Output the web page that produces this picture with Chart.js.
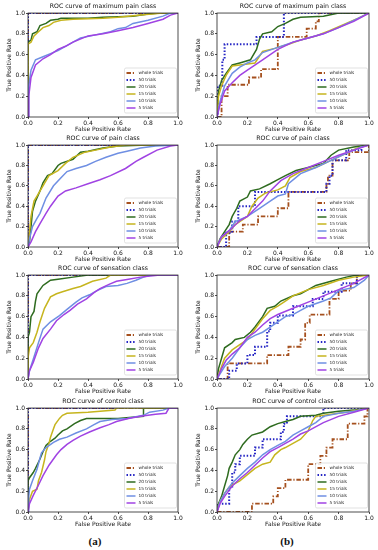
<!DOCTYPE html>
<html>
<head>
<meta charset="utf-8">
<script src="https://cdn.jsdelivr.net/npm/chart.js@4.4.1/dist/chart.umd.min.js"></script>
<style>
  html, body { margin: 0; padding: 0; background: #fff; }
  #figure { position: relative; width: 378px; height: 550px; overflow: hidden; }
  #figure canvas { position: absolute; }
  .panel-label { position: absolute; top: 535px; font: bold 11px "Liberation Serif", serif; color: #111; transform: translateX(-50%); }
</style>
</head>
<body>
<div id="figure">
  <div class="panel-label" style="left:95px">(a)</div>
  <div class="panel-label" style="left:287px">(b)</div>
</div>
<script>
// Series + ticks
const seriesNames = ['whole trials', '50 trials', '20 trials', '15 trials', '10 trials', '5 trials'];
const classTitles = ['ROC curve of maximum pain class', 'ROC curve of pain class', 'ROC curve of sensation class', 'ROC curve of control class'];
const tickValues = [0, 0.2, 0.4, 0.6, 0.8, 1.0];
const tickLabels = ['0.0', '0.2', '0.4', '0.6', '0.8', '1.0'];

// Curves, [fpr, tpr] pairs
// (a) column
const perfectRoc = [[0, 0], [0, 1], [1, 1]];

const maxPainA20 = [[0,0],[0,0.72],[0.02,0.74],[0.03,0.8],[0.06,0.82],[0.08,0.88],[0.12,0.9],[0.15,0.93],[0.2,0.94],[0.22,0.95],[0.4,0.95],[0.5,0.96],[0.7,0.97],[0.8,0.99],[0.88,1],[1,1]];
const maxPainA15 = [[0,0],[0,0.7],[0.02,0.72],[0.04,0.78],[0.07,0.82],[0.1,0.86],[0.14,0.88],[0.17,0.91],[0.22,0.93],[0.3,0.94],[0.5,0.95],[0.6,0.96],[0.75,0.98],[0.9,1],[1,1]];
const maxPainA10 = [[0,0],[0.005,0.3],[0.02,0.45],[0.05,0.55],[0.1,0.58],[0.15,0.61],[0.2,0.64],[0.25,0.68],[0.3,0.72],[0.35,0.76],[0.45,0.79],[0.55,0.82],[0.6,0.85],[0.65,0.86],[0.7,0.9],[0.8,0.93],[0.9,0.97],[0.95,1],[1,1]];
const maxPainA5 = [[0,0],[0.005,0.2],[0.02,0.38],[0.05,0.5],[0.1,0.56],[0.15,0.6],[0.2,0.65],[0.25,0.68],[0.3,0.72],[0.4,0.78],[0.5,0.8],[0.6,0.83],[0.7,0.86],[0.8,0.9],[0.9,0.94],[0.95,0.98],[1,1]];

const painA20 = [[0,0],[0.01,0.05],[0.02,0.2],[0.03,0.35],[0.05,0.45],[0.08,0.55],[0.1,0.63],[0.13,0.7],[0.16,0.72],[0.2,0.8],[0.22,0.82],[0.3,0.86],[0.35,0.93],[0.4,0.94],[0.5,0.97],[0.6,0.99],[0.8,1],[1,1]];
const painA15 = [[0,0],[0.01,0.15],[0.02,0.3],[0.04,0.45],[0.06,0.5],[0.1,0.6],[0.14,0.7],[0.2,0.75],[0.25,0.82],[0.3,0.88],[0.38,0.93],[0.45,0.95],[0.55,0.98],[0.65,1],[1,1]];
const painA10 = [[0,0],[0.01,0.08],[0.03,0.2],[0.06,0.28],[0.08,0.33],[0.12,0.48],[0.17,0.6],[0.22,0.68],[0.26,0.74],[0.32,0.77],[0.39,0.8],[0.45,0.84],[0.52,0.88],[0.6,0.92],[0.66,0.94],[0.75,0.97],[0.85,0.99],[1,1]];
const painA5 = [[0,0],[0.02,0.05],[0.05,0.15],[0.08,0.23],[0.12,0.33],[0.15,0.4],[0.2,0.5],[0.25,0.55],[0.32,0.58],[0.4,0.62],[0.48,0.66],[0.55,0.7],[0.65,0.77],[0.72,0.84],[0.77,0.88],[0.86,0.95],[0.95,0.99],[1,1]];

const sensationA20 = [[0,0],[0,0.4],[0.01,0.45],[0.02,0.6],[0.04,0.65],[0.05,0.75],[0.06,0.82],[0.08,0.86],[0.1,0.9],[0.12,0.92],[0.15,0.95],[0.2,0.96],[0.3,0.98],[0.4,1],[1,1]];
const sensationA15 = [[0,0],[0,0.2],[0.01,0.3],[0.035,0.35],[0.06,0.45],[0.08,0.55],[0.11,0.68],[0.15,0.79],[0.19,0.82],[0.23,0.84],[0.3,0.87],[0.35,0.89],[0.43,0.94],[0.52,0.97],[0.55,1],[1,1]];
const sensationA10 = [[0,0],[0.01,0.08],[0.035,0.19],[0.07,0.35],[0.1,0.48],[0.15,0.55],[0.21,0.61],[0.26,0.67],[0.32,0.74],[0.36,0.78],[0.41,0.81],[0.46,0.85],[0.52,0.89],[0.6,0.9],[0.66,0.92],[0.72,0.95],[0.77,0.98],[0.82,1],[1,1]];
const sensationA5 = [[0,0],[0.01,0.08],[0.035,0.16],[0.07,0.3],[0.1,0.39],[0.15,0.48],[0.19,0.56],[0.24,0.62],[0.28,0.66],[0.33,0.72],[0.39,0.77],[0.44,0.83],[0.48,0.87],[0.54,0.91],[0.59,0.94],[0.67,0.96],[0.75,0.98],[0.88,1],[1,1]];

const controlA20 = [[0,0],[0,0.3],[0.01,0.33],[0.035,0.38],[0.05,0.42],[0.08,0.51],[0.1,0.58],[0.12,0.64],[0.15,0.68],[0.18,0.71],[0.2,0.74],[0.23,0.78],[0.26,0.8],[0.31,0.85],[0.35,0.88],[0.39,0.9],[0.6,0.9],[0.77,0.92],[0.77,1],[1,1]];
const controlA15 = [[0,0],[0.01,0.12],[0.03,0.2],[0.06,0.22],[0.07,0.3],[0.09,0.38],[0.11,0.5],[0.12,0.58],[0.14,0.66],[0.15,0.72],[0.17,0.8],[0.18,0.84],[0.21,0.9],[0.23,0.93],[0.26,0.95],[0.4,0.96],[0.58,0.98],[0.59,1],[1,1]];
const controlA10 = [[0,0],[0.005,0.15],[0.01,0.22],[0.03,0.3],[0.06,0.41],[0.08,0.52],[0.09,0.57],[0.12,0.62],[0.17,0.67],[0.21,0.7],[0.26,0.72],[0.32,0.76],[0.39,0.8],[0.44,0.84],[0.48,0.87],[0.56,0.89],[0.66,0.9],[0.77,0.93],[0.81,0.96],[0.9,0.98],[0.94,1],[1,1]];
const controlA5 = [[0,0],[0.01,0.08],[0.035,0.16],[0.07,0.26],[0.1,0.35],[0.14,0.45],[0.19,0.55],[0.22,0.6],[0.26,0.65],[0.3,0.69],[0.35,0.73],[0.41,0.77],[0.48,0.81],[0.54,0.84],[0.59,0.87],[0.67,0.9],[0.75,0.92],[0.85,0.94],[0.92,0.95],[0.94,1],[1,1]];

// (b) column; whole / 50 trials are step points (up, then across)
const maxPainBWhole = [[0,0],[0.03,0],[0.07,0.2],[0.21,0.31],[0.29,0.38],[0.4,0.46],[0.59,0.77],[0.65,0.85],[0.67,0.92],[1,1]];
const maxPainB50 = [[0,0],[0.005,0],[0.035,0.3],[0.05,0.55],[0.26,0.7],[0.44,0.77],[1,1]];
const maxPainB20 = [[0,0],[0.01,0.25],[0.03,0.35],[0.06,0.42],[0.1,0.5],[0.15,0.52],[0.22,0.55],[0.26,0.65],[0.28,0.75],[0.3,0.8],[0.36,0.82],[0.4,0.87],[0.45,0.9],[0.5,0.94],[0.55,0.96],[0.7,0.97],[0.8,1],[1,1]];
const maxPainB15 = [[0,0],[0.01,0.2],[0.03,0.3],[0.06,0.4],[0.1,0.49],[0.15,0.5],[0.25,0.52],[0.3,0.63],[0.38,0.66],[0.47,0.7],[0.55,0.74],[0.65,0.78],[0.74,0.83],[0.85,0.9],[0.93,0.95],[1,1]];
const maxPainB10 = [[0,0],[0.02,0.15],[0.05,0.3],[0.1,0.42],[0.15,0.48],[0.2,0.52],[0.25,0.55],[0.3,0.62],[0.4,0.67],[0.5,0.72],[0.6,0.76],[0.7,0.8],[0.8,0.86],[0.9,0.93],[1,1]];
const maxPainB5 = [[0,0],[0.02,0.12],[0.05,0.25],[0.1,0.33],[0.15,0.4],[0.2,0.45],[0.3,0.55],[0.4,0.65],[0.5,0.72],[0.6,0.76],[0.7,0.8],[0.8,0.86],[0.9,0.92],[1,1]];

const painBWhole = [[0,0],[0.08,0],[0.17,0.15],[0.27,0.22],[0.4,0.3],[0.47,0.38],[0.72,0.54],[0.73,0.62],[0.76,0.7],[0.87,0.85],[1,0.93],[1,1]];
const painB50 = [[0,0],[0.06,0],[0.1,0.14],[0.14,0.25],[0.25,0.4],[0.72,0.54],[0.74,0.62],[0.76,0.7],[0.85,0.85],[0.95,0.95],[1,1]];
const painB20 = [[0,0],[0.02,0.08],[0.05,0.15],[0.08,0.22],[0.1,0.3],[0.13,0.38],[0.15,0.45],[0.2,0.49],[0.22,0.55],[0.28,0.57],[0.35,0.62],[0.4,0.66],[0.45,0.7],[0.52,0.75],[0.6,0.78],[0.7,0.82],[0.75,0.9],[0.8,0.95],[0.9,0.98],[1,1]];
const painB15 = [[0,0],[0.03,0.08],[0.08,0.15],[0.12,0.22],[0.2,0.3],[0.23,0.4],[0.27,0.48],[0.32,0.53],[0.4,0.56],[0.45,0.6],[0.48,0.68],[0.55,0.74],[0.65,0.78],[0.75,0.85],[0.85,0.92],[0.92,0.97],[1,1]];
const painB10 = [[0,0],[0.03,0.1],[0.08,0.16],[0.12,0.25],[0.2,0.3],[0.28,0.38],[0.35,0.45],[0.4,0.5],[0.45,0.52],[0.47,0.62],[0.55,0.72],[0.65,0.78],[0.75,0.85],[0.85,0.92],[0.95,0.98],[1,1]];
const painB5 = [[0,0],[0.03,0.1],[0.08,0.16],[0.15,0.26],[0.2,0.3],[0.3,0.45],[0.35,0.55],[0.42,0.65],[0.5,0.72],[0.6,0.78],[0.7,0.84],[0.8,0.9],[0.9,0.95],[1,1]];

const sensationBWhole = [[0,0],[0.07,0],[0.33,0.15],[0.47,0.23],[0.55,0.31],[0.58,0.38],[0.61,0.54],[0.74,0.62],[0.8,0.77],[0.88,0.85],[0.92,0.92],[1,1]];
const sensationB50 = [[0,0],[0.08,0],[0.13,0.08],[0.2,0.15],[0.25,0.23],[0.33,0.31],[0.35,0.46],[0.4,0.54],[0.5,0.61],[0.63,0.7],[0.7,0.77],[0.82,0.84],[0.92,0.92],[1,1]];
const sensationB20 = [[0,0],[0.01,0.1],[0.03,0.2],[0.05,0.3],[0.1,0.35],[0.12,0.38],[0.18,0.4],[0.22,0.45],[0.25,0.5],[0.3,0.6],[0.33,0.68],[0.38,0.7],[0.42,0.75],[0.5,0.8],[0.55,0.82],[0.6,0.86],[0.65,0.9],[0.75,0.94],[0.85,0.98],[0.92,1],[1,1]];
const sensationB15 = [[0,0],[0.02,0.08],[0.05,0.2],[0.1,0.28],[0.15,0.33],[0.2,0.38],[0.25,0.48],[0.3,0.58],[0.35,0.66],[0.4,0.7],[0.45,0.75],[0.5,0.8],[0.6,0.86],[0.7,0.9],[0.8,0.95],[0.9,0.98],[1,1]];
const sensationB10 = [[0,0],[0.02,0.05],[0.05,0.12],[0.1,0.2],[0.15,0.3],[0.2,0.38],[0.25,0.42],[0.3,0.45],[0.35,0.5],[0.4,0.55],[0.45,0.6],[0.5,0.62],[0.55,0.66],[0.6,0.7],[0.7,0.75],[0.75,0.78],[0.8,0.85],[0.9,0.88],[0.97,0.95],[1,1]];
const sensationB5 = [[0,0],[0.03,0.1],[0.06,0.18],[0.1,0.24],[0.15,0.3],[0.2,0.4],[0.25,0.45],[0.3,0.52],[0.35,0.58],[0.4,0.62],[0.5,0.68],[0.6,0.74],[0.7,0.8],[0.8,0.86],[0.9,0.92],[1,1]];

const controlBWhole = [[0,0],[0.23,0],[0.37,0.08],[0.4,0.15],[0.45,0.23],[0.6,0.31],[0.68,0.46],[0.72,0.54],[0.76,0.62],[0.86,0.7],[0.97,0.85],[0.99,0.92],[1,1]];
const controlB50 = [[0,0],[0.08,0.08],[0.1,0.23],[0.12,0.38],[0.15,0.46],[0.25,0.54],[0.3,0.62],[0.42,0.7],[0.44,0.77],[0.46,0.85],[0.7,0.92],[1,1]];
const controlB20 = [[0,0],[0.01,0.08],[0.03,0.15],[0.05,0.25],[0.07,0.35],[0.08,0.42],[0.1,0.48],[0.12,0.55],[0.15,0.6],[0.17,0.65],[0.2,0.7],[0.23,0.74],[0.3,0.77],[0.35,0.82],[0.4,0.85],[0.45,0.87],[0.5,0.89],[0.55,0.92],[0.65,0.93],[0.7,0.95],[0.8,0.97],[0.9,0.98],[1,1]];
const controlB15 = [[0,0],[0.02,0.1],[0.05,0.18],[0.08,0.24],[0.1,0.26],[0.15,0.3],[0.2,0.36],[0.25,0.42],[0.3,0.46],[0.35,0.48],[0.38,0.55],[0.42,0.6],[0.45,0.62],[0.5,0.66],[0.55,0.7],[0.6,0.78],[0.63,0.88],[0.65,0.92],[0.75,0.94],[0.85,0.96],[1,1]];
const controlB10 = [[0,0],[0.02,0.1],[0.05,0.18],[0.1,0.28],[0.15,0.35],[0.2,0.42],[0.25,0.48],[0.3,0.55],[0.35,0.6],[0.4,0.64],[0.45,0.68],[0.5,0.74],[0.55,0.78],[0.6,0.82],[0.65,0.86],[0.7,0.92],[0.8,0.95],[0.9,0.97],[1,1]];
const controlB5 = [[0,0],[0.02,0.08],[0.05,0.15],[0.1,0.25],[0.15,0.32],[0.2,0.38],[0.25,0.45],[0.3,0.52],[0.35,0.58],[0.4,0.62],[0.5,0.7],[0.55,0.75],[0.6,0.78],[0.7,0.86],[0.8,0.92],[0.9,0.96],[1,1]];

// Styles
const seriesColors = ['#a5501e', '#2424c4', '#2e6b1f', '#c6b51e', '#6f8fe3', '#a043e3'];
const seriesWidths = [1.8, 2, 1.5, 1.5, 1.5, 1.5];
const seriesDashes = [[4.5, 1.8, 1.2, 1.8], [1.5, 1.8], [], [], [], []];
const fontFamily = '"DejaVu Sans", sans-serif';
const textColor = '#111';

// Layout (px)
const plotTops = [13, 145, 275, 408];
const plotBottoms = [117, 247, 379, 512];
const colLeft = [0, 189];
const colRightPad = [11, 9];

const figure = document.getElementById('figure');

// Frame around the axes + legend in the lower right corner
const frameAndLegend = {
    id: 'frameAndLegend',
    afterDatasetsDraw(chart) {
        const ctx = chart.ctx;
        const a = chart.chartArea;
        ctx.save();
        ctx.strokeStyle = '#222';
        ctx.lineWidth = 0.8;
        ctx.setLineDash([]);
        ctx.strokeRect(a.left, a.top, a.right - a.left, a.bottom - a.top);

        const w = 52, h = 45;
        const x0 = a.right - 1.5 - w;
        const y0 = a.bottom - 4 - h;
        ctx.fillStyle = 'rgba(255,255,255,0.85)';
        ctx.strokeStyle = '#cfcfcf';
        ctx.lineWidth = 0.6;
        ctx.beginPath();
        if (ctx.roundRect) ctx.roundRect(x0, y0, w, h, 1.5); else ctx.rect(x0, y0, w, h);
        ctx.fill();
        ctx.stroke();

        ctx.font = '4.3px ' + fontFamily;
        ctx.textBaseline = 'middle';
        chart.data.datasets.forEach((ds, i) => {
            const y = y0 + 5 + i * 7;
            ctx.strokeStyle = ds.borderColor;
            ctx.lineWidth = ds.borderWidth;
            ctx.setLineDash(ds.borderDash);
            ctx.beginPath();
            ctx.moveTo(x0 + 2, y);
            ctx.lineTo(x0 + 11, y);
            ctx.stroke();
            ctx.fillStyle = '#222';
            ctx.fillText(ds.label, x0 + 14, y);
        });
        ctx.restore();
    }
};

function axisFont(size) {
    return { family: fontFamily, size: size, weight: 'normal' };
}

function makePanel(row, col, curves) {
    const canvas = document.createElement('canvas');
    const h = (plotBottoms[row] - plotTops[row]) + 13 + 17;
    canvas.width = 189;
    canvas.height = h;
    canvas.style.left = colLeft[col] + 'px';
    canvas.style.top = (plotTops[row] - 13) + 'px';
    canvas.style.width = '189px';
    canvas.style.height = h + 'px';
    figure.appendChild(canvas);

    new Chart(canvas, {
        type: 'line',
        data: {
            datasets: curves.map((pts, i) => ({
                label: seriesNames[i],
                data: pts,
                borderColor: seriesColors[i],
                borderWidth: seriesWidths[i],
                borderDash: seriesDashes[i],
                stepped: i < 2 ? 'after' : false,
                pointRadius: 0,
                fill: false,
                order: 5 - i
            }))
        },
        options: {
            responsive: false,
            animation: false,
            events: [],
            layout: { padding: { left: 0, right: colRightPad[col], top: 0, bottom: 0 } },
            plugins: {
                legend: { display: false },
                tooltip: { enabled: false },
                title: {
                    display: true,
                    text: classTitles[row],
                    fullSize: false,
                    color: textColor,
                    font: axisFont(6.2),
                    padding: { top: 2.8, bottom: 2.8 }
                }
            },
            scales: {
                x: {
                    type: 'linear',
                    min: 0,
                    max: 1,
                    afterFit: s => { s.height = 17; },
                    afterBuildTicks: s => { s.ticks = tickValues.map(v => ({ value: v })); },
                    ticks: {
                        autoSkip: false,
                        maxRotation: 0,
                        padding: 0.5,
                        color: textColor,
                        font: axisFont(6),
                        callback: (v, i) => tickLabels[i]
                    },
                    grid: { drawOnChartArea: false, tickLength: 2, color: '#222', lineWidth: 0.8 },
                    border: { display: false },
                    title: { display: true, text: 'False Positive Rate', color: textColor, font: axisFont(6), padding: { top: 0, bottom: 1.2 } }
                },
                y: {
                    type: 'linear',
                    min: 0,
                    max: 1,
                    afterFit: s => { s.width = 28; },
                    afterBuildTicks: s => { s.ticks = tickValues.map(v => ({ value: v })); },
                    ticks: {
                        autoSkip: false,
                        padding: 1,
                        color: textColor,
                        font: axisFont(6),
                        callback: (v, i) => tickLabels[i]
                    },
                    grid: { drawOnChartArea: false, tickLength: 2, color: '#222', lineWidth: 0.8 },
                    border: { display: false },
                    title: { display: true, text: 'True Positive Rate', color: textColor, font: axisFont(6), padding: { top: 6, bottom: 0 } }
                }
            }
        },
        plugins: [frameAndLegend]
    });
}

// Panels
makePanel(0, 0, [perfectRoc, perfectRoc, maxPainA20, maxPainA15, maxPainA10, maxPainA5]);
makePanel(0, 1, [maxPainBWhole, maxPainB50, maxPainB20, maxPainB15, maxPainB10, maxPainB5]);
makePanel(1, 0, [perfectRoc, perfectRoc, painA20, painA15, painA10, painA5]);
makePanel(1, 1, [painBWhole, painB50, painB20, painB15, painB10, painB5]);
makePanel(2, 0, [perfectRoc, perfectRoc, sensationA20, sensationA15, sensationA10, sensationA5]);
makePanel(2, 1, [sensationBWhole, sensationB50, sensationB20, sensationB15, sensationB10, sensationB5]);
makePanel(3, 0, [perfectRoc, perfectRoc, controlA20, controlA15, controlA10, controlA5]);
makePanel(3, 1, [controlBWhole, controlB50, controlB20, controlB15, controlB10, controlB5]);
</script>
</body>
</html>
